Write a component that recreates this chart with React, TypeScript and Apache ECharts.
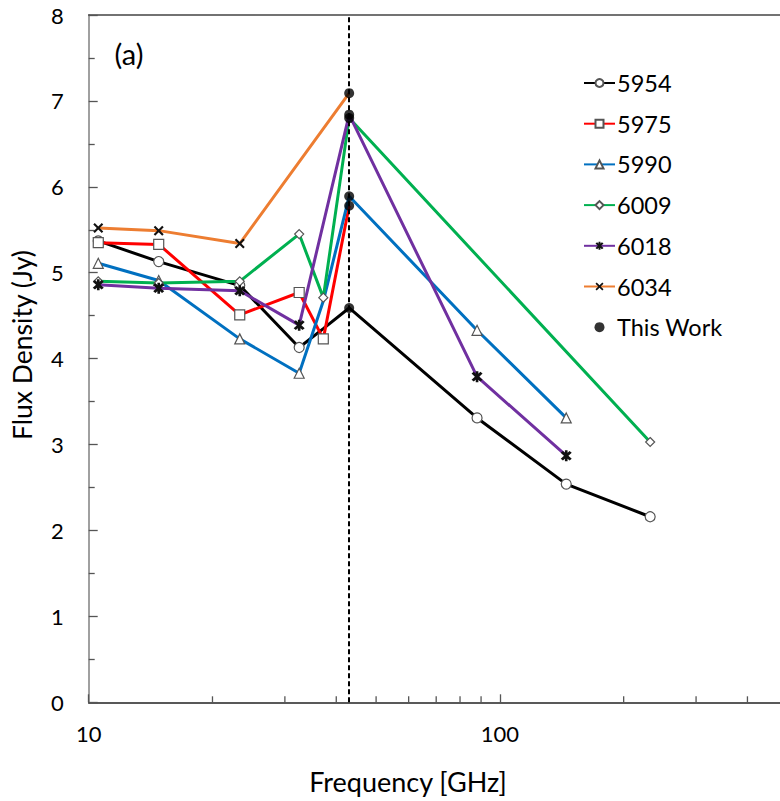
import React, { useEffect, useRef } from "react";
import * as echarts from "echarts";

const freqs = [10.55, 14.8, 23.3, 32.5, 37.2, 43, 88, 145, 232];
const s5954 = [5.37, 5.13, 4.85, 4.13, 4.35, 4.59, 3.31, 2.54, 2.16];
const s5975 = [5.35, 5.33, 4.51, 4.77, 4.23, 5.78, null, null, null];
const s5990 = [5.11, 4.91, 4.23, 3.83, 4.67, 5.89, 4.33, 3.31, null];
const s6009 = [4.9, 4.88, 4.9, 5.45, 4.71, 6.8, null, null, 3.03];
const s6018 = [4.86, 4.82, 4.79, 4.39, null, 6.84, 3.79, 2.87, null];
const s6034 = [5.52, 5.49, 5.34, null, null, 7.09, null, null, null];
const thisWorkFreq = 43;
const thisWork = [7.09, 6.84, 6.8, 5.89, 5.78, 4.59];
const hiddenMarkerFreqs = [43];
const hiddenMarkerExtra: Record<string, number[]> = { "5954": [37.2], "5990": [37.2] };
const xMinorTicks = [20, 30, 40, 50, 60, 70, 80, 90, 200, 300, 400];
const xAxisLabels = [10, 100];

const FONT = "Lato";

const X_PATH =
  "path://M0,1.5 L1.5,0 L5,3.5 L8.5,0 L10,1.5 L6.5,5 L10,8.5 L8.5,10 L5,6.5 L1.5,10 L0,8.5 L3.5,5 Z";
const STAR_PATH =
  "path://M0,2.2 L2,0.6 L5,3.4 L8,0.6 L10,2.2 L7,5 L10,7.8 L8,9.4 L5,6.6 L2,9.4 L0,7.8 L3,5 Z M3.8,0 L6.2,0 L6.2,10 L3.8,10 Z";

function buildData(name: string, vals: (number | null)[]) {
  const hidden = [...hiddenMarkerFreqs, ...(hiddenMarkerExtra[name] || [])];
  const out: any[] = [];
  vals.forEach((v, i) => {
    if (v === null) return;
    const f = freqs[i];
    if (hidden.includes(f)) out.push({ value: [f, v], symbol: "none" });
    else out.push([f, v]);
  });
  return out;
}

export default function App() {
  const ref = useRef<HTMLDivElement>(null);
  useEffect(() => {
    document.body.style.margin = "0";
    const chart = echarts.init(ref.current!, undefined, { renderer: "svg" });
    const lineSeries = (
      name: string,
      vals: (number | null)[],
      color: string,
      symbol: string,
      size: number,
      filled: boolean
    ) => ({
      name,
      type: "line",
      data: buildData(name, vals),
      connectNulls: false,
      symbol,
      symbolSize: size,
      showAllSymbol: true,
      lineStyle: { color, width: 3 },
      itemStyle: filled
        ? { color: "#111", borderWidth: 0 }
        : { color: "#ffffff", borderColor: "#555", borderWidth: 1.2 },
      emphasis: { disabled: true },
      z: 2,
    });

    chart.setOption({
      animation: false,
      textStyle: { fontFamily: FONT },
      grid: {
        left: 88.7,
        right: 0,
        top: 15,
        bottom: 98.7,
        containLabel: false,
        outerBoundsMode: "none",
      },
      xAxis: [
        {
          type: "log",
          min: 10,
          max: 480,
          logBase: 10,
          axisLine: { show: true, lineStyle: { color: "#222", width: 1.6 } },
          axisTick: { show: true, inside: true, length: 8, lineStyle: { color: "#555", width: 1.3 } },
          minorTick: { show: false },
          splitLine: { show: false },
          axisLabel: {
            show: true,
            margin: 20,
            fontSize: 22,
            color: "#000",
            fontFamily: FONT,
            showMaxLabel: false,
            formatter: (v: number) => {
              const r = Math.round(v);
              return xAxisLabels.includes(r) ? String(r) : "";
            },
          },
        },
        {
          type: "log",
          position: "top",
          min: 10,
          max: 480,
          axisLine: { show: true, lineStyle: { color: "#444", width: 1.5 } },
          axisTick: { show: false },
          axisLabel: { show: false },
          splitLine: { show: false },
        },
      ],
      yAxis: {
        type: "value",
        min: 0,
        max: 8,
        interval: 1,
        axisLine: { show: true, lineStyle: { color: "#808080", width: 1.5 } },
        axisTick: { show: true, inside: true, length: 9, lineStyle: { color: "#555", width: 1.3 } },
        minorTick: { show: true, splitNumber: 2, length: 6, lineStyle: { color: "#555", width: 1.3 } },
        splitLine: { show: false },
        axisLabel: { margin: 25, fontSize: 22, color: "#000", fontFamily: FONT },
      },
      legend: {
        orient: "vertical",
        left: 583,
        top: 71,
        padding: 0,
        itemWidth: 31,
        itemHeight: 10,
        itemGap: 16.7,
        selectedMode: false,
        textStyle: { fontSize: 23.5, color: "#000", fontFamily: FONT, padding: [0, 0, 0, -3] },
        data: ["5954", "5975", "5990", "6009", "6018", "6034", "This Work"],
      },
      graphic: [
        {
          type: "text",
          x: 129,
          y: 53,
          style: { text: "(a)", fontSize: 29, fontFamily: FONT, fill: "#000", align: "center", verticalAlign: "middle" },
        },
        {
          type: "text",
          x: 408,
          y: 781,
          style: { text: "Frequency [GHz]", fontSize: 27, fontFamily: FONT, fill: "#000", align: "center", verticalAlign: "middle" },
        },
        {
          type: "text",
          x: 22,
          y: 345,
          rotation: Math.PI / 2,
          style: { text: "Flux Density (Jy)", fontSize: 26.5, fontFamily: FONT, fill: "#000", align: "center", verticalAlign: "middle" },
        },
      ],
      series: [
        {
          name: "minorTicks",
          type: "custom",
          silent: true,
          data: xMinorTicks.map((v) => [v, 0]),
          renderItem: (params: any, api: any) => {
            const p = api.coord([api.value(0), api.value(1)]);
            return {
              type: "line",
              shape: { x1: p[0], y1: p[1], x2: p[0], y2: p[1] - 6 },
              style: { stroke: "#555", lineWidth: 1.3 },
            };
          },
          z: 1,
        },
        lineSeries("5954", s5954, "#000000", "circle", 10, false),
        lineSeries("5975", s5975, "#ff0000", "rect", 10, false),
        lineSeries("5990", s5990, "#0070c0", "triangle", 10, false),
        lineSeries("6009", s6009, "#00b050", "diamond", 9, false),
        lineSeries("6018", s6018, "#7030a0", STAR_PATH, 11, true),
        lineSeries("6034", s6034, "#ed7d31", X_PATH, 10, true),
        {
          name: "This Work",
          type: "scatter",
          data: thisWork.map((v) => [thisWorkFreq, v]),
          symbol: "circle",
          symbolSize: 10,
          itemStyle: { color: "#000" },
          emphasis: { disabled: true },
          z: 5,
          markLine: {
            silent: true,
            symbol: "none",
            label: { show: false },
            lineStyle: { color: "#000", type: [5, 3], width: 2 },
            data: [{ xAxis: thisWorkFreq }],
          },
        },
      ],
    });
    return () => chart.dispose();
  }, []);
  return <div ref={ref} style={{ width: 780, height: 801 }} />;
}
